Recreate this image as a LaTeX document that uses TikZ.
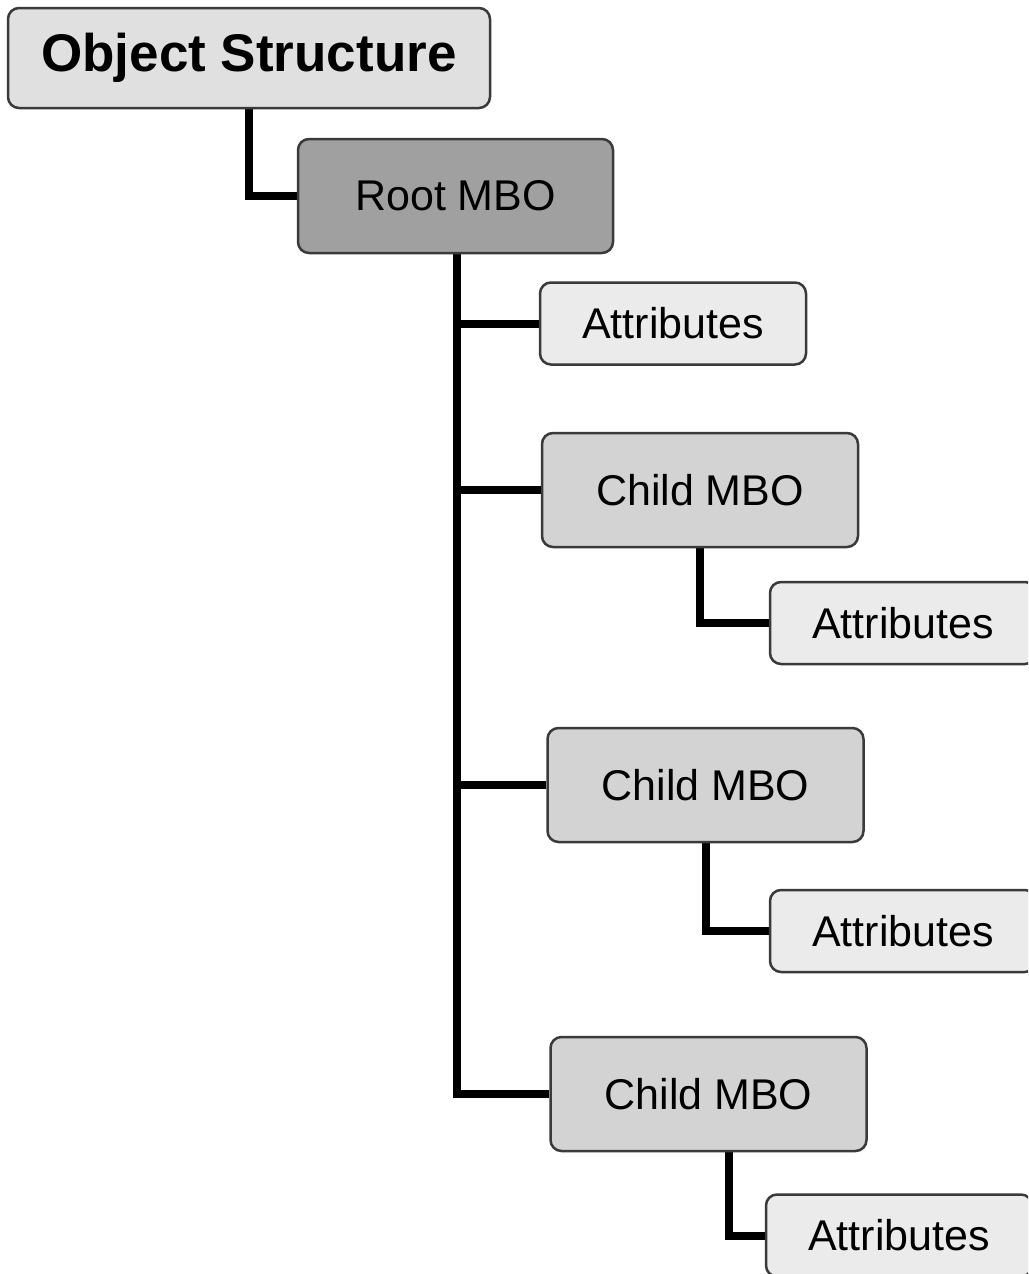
\documentclass[tikz,border=0pt]{standalone}
\usepackage{fontspec}
\setmainfont{Liberation Sans}
\usetikzlibrary{backgrounds}
\definecolor{rootfill}{HTML}{A0A0A0}
\definecolor{childfill}{HTML}{D3D3D3}
\definecolor{attrfill}{HTML}{EBEBEB}
\definecolor{titlefill}{HTML}{E0E0E0}
\definecolor{edgegray}{HTML}{3A3A3A}
\begin{document}
\begin{tikzpicture}[x=1pt,y=-1pt,
  box/.style={draw=edgegray, line width=2.5pt, rounded corners=11pt,
    inner sep=0pt, font=\fontsize{43}{50}\selectfont},
  titlebox/.style={box, fill=titlefill, minimum width=482pt, minimum height=100pt,
    font=\fontsize{53}{60}\selectfont\bfseries},
  rootbox/.style={box, fill=rootfill, minimum width=315pt, minimum height=114pt},
  childbox/.style={box, fill=childfill, minimum width=316pt, minimum height=114pt},
  attrbox/.style={box, fill=attrfill, minimum width=266pt, minimum height=82pt},
  link/.style={draw=black, line width=8pt}]
\useasboundingbox (0,0) rectangle (1028,1274);
\clip (0,0) rectangle (1028,1274);

% boxes
\node[titlebox] (os) at (249,58) {Object Structure};
\node[rootbox]  (root) at (455.5,196) {Root MBO};
\node[attrbox]  (a1) at (673,323.5) {Attributes};
\node[childbox] (c1) at (700,490) {Child MBO};
\node[attrbox]  (a2) at (903,623) {Attributes};
\node[childbox] (c2) at (705.5,785) {Child MBO};
\node[attrbox]  (a3) at (903,931) {Attributes};
\node[childbox] (c3) at (708.5,1094) {Child MBO};
\node[attrbox]  (a4) at (899,1235.5) {Attributes};

% connectors
\begin{scope}[on background layer]
  \draw[link] (os.south) |- (root.west);
  \coordinate (trunk) at ([xshift=1.5pt]root.south);
  \draw[link] (trunk) |- (c3.west);
  \draw[link] (a1.west) -- (a1.west -| trunk);
  \draw[link] (c1.west) -- (c1.west -| trunk);
  \draw[link] (c2.west) -- (c2.west -| trunk);
  \draw[link] (c1.south) |- (a2.west);
  \draw[link] (c2.south) |- (a3.west);
  \draw[link] ([xshift=20.5pt]c3.south) |- (a4.west);
\end{scope}
\end{tikzpicture}
\end{document}
